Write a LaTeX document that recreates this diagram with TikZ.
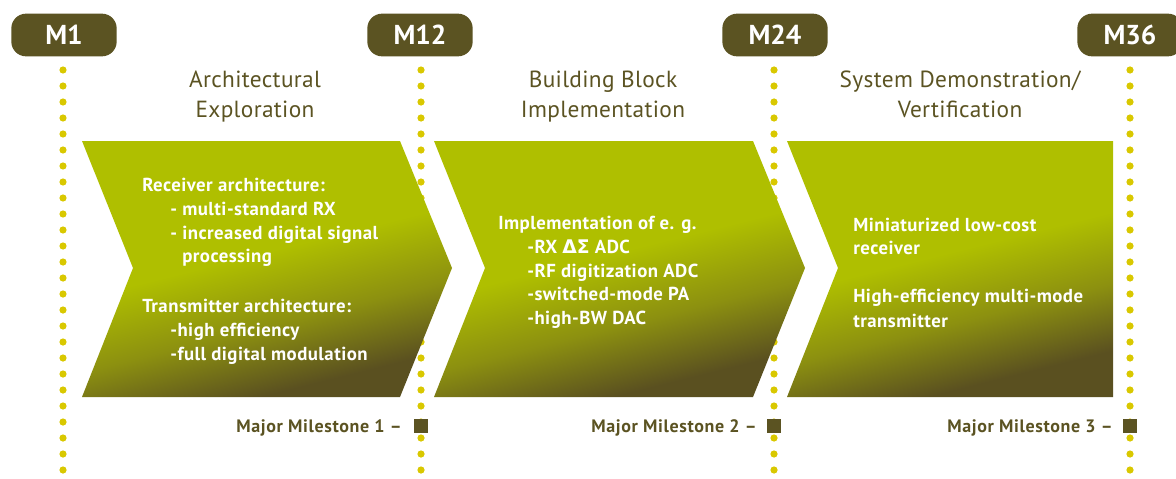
\documentclass[tikz,border=0pt]{standalone}
\usepackage{fontspec}
\setmainfont{PT Sans}
\newfontfamily\grk{DejaVu Sans}
\definecolor{olive}{HTML}{5B5322}
\definecolor{dotc}{HTML}{D9C800}
\definecolor{lt}{HTML}{AFBF00}
\definecolor{md}{HTML}{8C9010}
\definecolor{dk}{HTML}{5A5020}
\pgfdeclareverticalshading{chevshade}{100bp}{color(0bp)=(dk); color(28bp)=(dk); color(40bp)=(md); color(53bp)=(lt); color(100bp)=(lt)}
\tikzset{
  pill/.style={fill=olive, rounded corners=11pt, minimum width=79pt, minimum height=32pt, inner sep=0pt},
  pilltext/.style={text=white, font=\fontsize{20.5}{22}\selectfont\bfseries, anchor=base},
  title/.style={text=olive, font=\fontsize{17.5}{19}\selectfont\addfontfeatures{LetterSpace=1.5}, anchor=base, inner sep=0pt},
  chev/.style={shading=chevshade, shading angle=14},
  ctext/.style={text=white, font=\fontsize{14.1}{15}\selectfont\bfseries\addfontfeatures{LetterSpace=2.5}, anchor=base west, inner sep=0pt},
  mslabel/.style={text=olive, font=\fontsize{13.5}{15}\selectfont\bfseries\addfontfeatures{LetterSpace=3.5}, anchor=base east, inner sep=0pt},
  mssq/.style={fill=olive, minimum size=10.5pt, inner sep=0pt},
}
\begin{document}
\begin{tikzpicture}[x=0.75pt, y=-0.75pt]
\useasboundingbox (0,0) rectangle (1176,478);
\clip (0,0) rectangle (1176,478);
% dotted lines
\foreach \xx in {63,421,774,1130}{
  \foreach \yy in {70,86,...,470}{
    \fill[dotc] (\xx,\yy) circle[radius=2.7pt];
  }
}
% chevrons
\shade[chev] (82,141) -- (400,141) -- (452,268) -- (400,397) -- (82,397) -- (133,268) -- cycle;
\shade[chev] (434,141) -- (753,141) -- (805,268) -- (753,397) -- (434,397) -- (485,268) -- cycle;
\shade[chev] (787,141) -- (1113,141) -- (1113,397) -- (787,397) -- (838,268) -- cycle;
% milestone pills
\node[pill] (p1) at (64,35) {};
\node[pill] (p12) at (420,35) {};
\node[pill] (p24) at (775,35) {};
\node[pill] (p36) at (1130,35) {};
\node[pilltext] (t1) at (64,45) {M1};
\node[pilltext] (t12) at (420,45) {M12};
\node[pilltext] (t24) at (775,45) {M24};
\node[pilltext] (t36) at (1130,45) {M36};
% titles
\node[title] (a1) at (255,87) {Architectural};
\node[title] (a2) at (255,117) {Exploration};
\node[title] (b1) at (603,87) {Building Block};
\node[title] (b2) at (603,117) {Implementation};
\node[title] (c1) at (960,87) {System Demonstration/};
\node[title] (c2) at (960,117) {Vertification};
% chevron 1 text
\node[ctext] (r1) at (142,191) {Receiver architecture:};
\node[ctext] (r2) at (170,215) {- multi-standard RX};
\node[ctext] (r3) at (170,239) {- increased digital signal};
\node[ctext] (r4) at (182,262) {processing};
\node[ctext] (r5) at (142,312) {Transmitter architecture:};
\node[ctext] (r6) at (170,336) {-high efficiency};
\node[ctext] (r7) at (170,360) {-full digital modulation};
% chevron 2 text
\node[ctext] (s1) at (498,229) {Implementation of e. g.};
\node[ctext] (s2) at (527,253) {-RX {\grk ΔΣ} ADC};
\node[ctext] (s3) at (527,277) {-RF digitization ADC};
\node[ctext] (s4) at (527,300) {-switched-mode PA};
\node[ctext] (s5) at (527,324) {-high-BW DAC};
% chevron 3 text
\node[ctext] (u1) at (853,231) {Miniaturized low-cost};
\node[ctext] (u2) at (853,254) {receiver};
\node[ctext] (u3) at (853,302) {High-efficiency multi-mode};
\node[ctext] (u4) at (853,327) {transmitter};
% major milestones
\node[mslabel] (m1) at (402,432) {Major Milestone 1 –};
\node[mssq] (q1) at (421,426) {};
\node[mslabel] (m2) at (757,432) {Major Milestone 2 –};
\node[mssq] (q2) at (774,426) {};
\node[mslabel] (m3) at (1113,432) {Major Milestone 3 –};
\node[mssq] (q3) at (1130,426) {};
\end{tikzpicture}
\end{document}
